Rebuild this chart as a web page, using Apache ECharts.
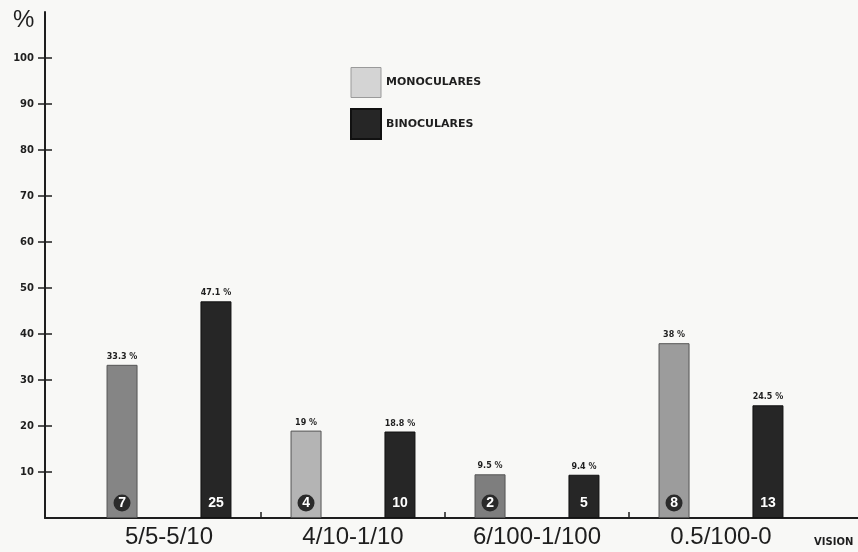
<!DOCTYPE html>
<html>
<head>
<meta charset="utf-8">
<script src="https://cdn.jsdelivr.net/npm/echarts@6/dist/echarts.min.js"></script>
<style>
html,body{margin:0;padding:0;background:#f8f8f6;}
#chart{width:858px;height:552px;}
</style>
</head>
<body>
<div id="chart"></div>
<script>
// ---- data ----
const categories = ['5/5-5/10', '4/10-1/10', '6/100-1/100', '0.5/100-0'];
const monoPct = [33.3, 19, 9.5, 38];
const binoPct = [47.1, 18.8, 9.4, 24.5];
const monoCount = [7, 4, 2, 8];
const binoCount = [25, 10, 5, 13];
const yTickValues = [10, 20, 30, 40, 50, 60, 70, 80, 90, 100];
const seriesNames = ['MONOCULARES', 'BINOCULARES'];

// ---- styles ----
const monoColors = ['#858585', '#b4b4b4', '#7e7e7e', '#9c9c9c'];
const binoColor = '#262626';
const ink = '#1e1e1e';

const chart = echarts.init(document.getElementById('chart'));

function countMarks(counts, circle) {
  return {
    symbol: circle ? 'circle' : 'rect',
    symbolSize: circle ? 17 : [22, 16],
    symbolOffset: [0, -15],
    silent: true,
    itemStyle: { color: circle ? '#2a2a2a' : 'rgba(0,0,0,0)' },
    label: {
      show: true, position: 'inside', color: '#ffffff',
      fontSize: 14, fontWeight: 'bold', fontFamily: 'Liberation Sans',
      formatter: p => String(p.value)
    },
    data: counts.map((c, i) => ({ coord: [i, 0], value: c }))
  };
}

const pctLabel = {
  show: true, position: 'top', distance: 4,
  fontSize: 8, fontWeight: 'bold', color: ink, fontFamily: 'DejaVu Sans',
  formatter: p => p.value + ' %'
};

chart.setOption({
  backgroundColor: '#f8f8f6',
  animation: false,
  title: [
    { text: '%', left: 8, top: 3, textStyle: { fontSize: 24, fontWeight: 'normal', color: ink, fontFamily: 'Liberation Sans' } },
    { text: 'VISION', left: 809, top: 532, textStyle: { fontSize: 10, fontWeight: 'bold', color: ink, fontFamily: 'DejaVu Sans' } }
  ],
  legend: {
    orient: 'vertical', left: 345, top: 62,
    itemWidth: 30, itemHeight: 30, itemGap: 10,
    selectedMode: false,
    textStyle: { fontSize: 11, fontWeight: 'bold', color: ink, fontFamily: 'DejaVu Sans' },
    data: [
      { name: seriesNames[0], icon: 'rect', itemStyle: { color: '#d4d4d4', borderColor: '#9a9a9a', borderWidth: 1 } },
      { name: seriesNames[1], icon: 'rect', itemStyle: { color: binoColor } }
    ]
  },
  grid: [
    { left: 77, right: 45, top: 12, bottom: 34 },
    { left: 45, right: 0, top: 12, bottom: 34 }
  ],
  xAxis: [
    {
      type: 'category', gridIndex: 0, data: categories,
      axisLine: { show: false },
      axisTick: { show: false },
      axisLabel: { fontSize: 24, color: ink, margin: 7, fontFamily: 'Liberation Sans' }
    },
    {
      type: 'value', gridIndex: 0, min: 0, max: 4, position: 'bottom',
      axisLine: { show: false },
      axisTick: { show: true, inside: true, length: 6, customValues: [1, 2, 3], lineStyle: { color: ink, width: 1.5 } },
      axisLabel: { show: false }, splitLine: { show: false }
    },
    {
      type: 'value', gridIndex: 1, min: 0, max: 1,
      axisLine: { show: true, lineStyle: { color: ink, width: 2 } },
      axisTick: { show: false }, axisLabel: { show: false }, splitLine: { show: false }
    }
  ],
  yAxis: [
    { type: 'value', gridIndex: 0, min: 0, max: 110, interval: 10, show: false },
    {
      type: 'value', gridIndex: 1, min: 0, max: 110, interval: 10, position: 'left',
      axisLine: { show: true, lineStyle: { color: ink, width: 2 } },
      axisTick: { show: true, length: 7, customValues: yTickValues, lineStyle: { color: ink, width: 1.5 } },
      axisLabel: { customValues: yTickValues, fontSize: 10, fontWeight: 'bold', color: ink, margin: 11, fontFamily: 'DejaVu Sans' },
      splitLine: { show: false }
    },
    {
      type: 'value', gridIndex: 1, min: 0, max: 110, interval: 10, position: 'left',
      axisLine: { show: false },
      axisTick: { show: true, inside: true, length: 7, customValues: yTickValues, lineStyle: { color: ink, width: 1.5 } },
      axisLabel: { show: false }, splitLine: { show: false }
    }
  ],
  series: [
    {
      name: seriesNames[0], type: 'bar', xAxisIndex: 0, yAxisIndex: 0,
      barWidth: 31, barGap: '203%',
      itemStyle: { color: '#d4d4d4' },
      data: monoPct.map((v, i) => ({ value: v, itemStyle: { color: monoColors[i], borderColor: '#555', borderWidth: 1 } })),
      label: pctLabel,
      markPoint: countMarks(monoCount, true)
    },
    {
      name: seriesNames[1], type: 'bar', xAxisIndex: 0, yAxisIndex: 0,
      barWidth: 31,
      itemStyle: { color: binoColor, borderColor: '#111', borderWidth: 1 },
      data: binoPct,
      label: pctLabel,
      markPoint: countMarks(binoCount, false)
    }
  ]
});
</script>
</body>
</html>
